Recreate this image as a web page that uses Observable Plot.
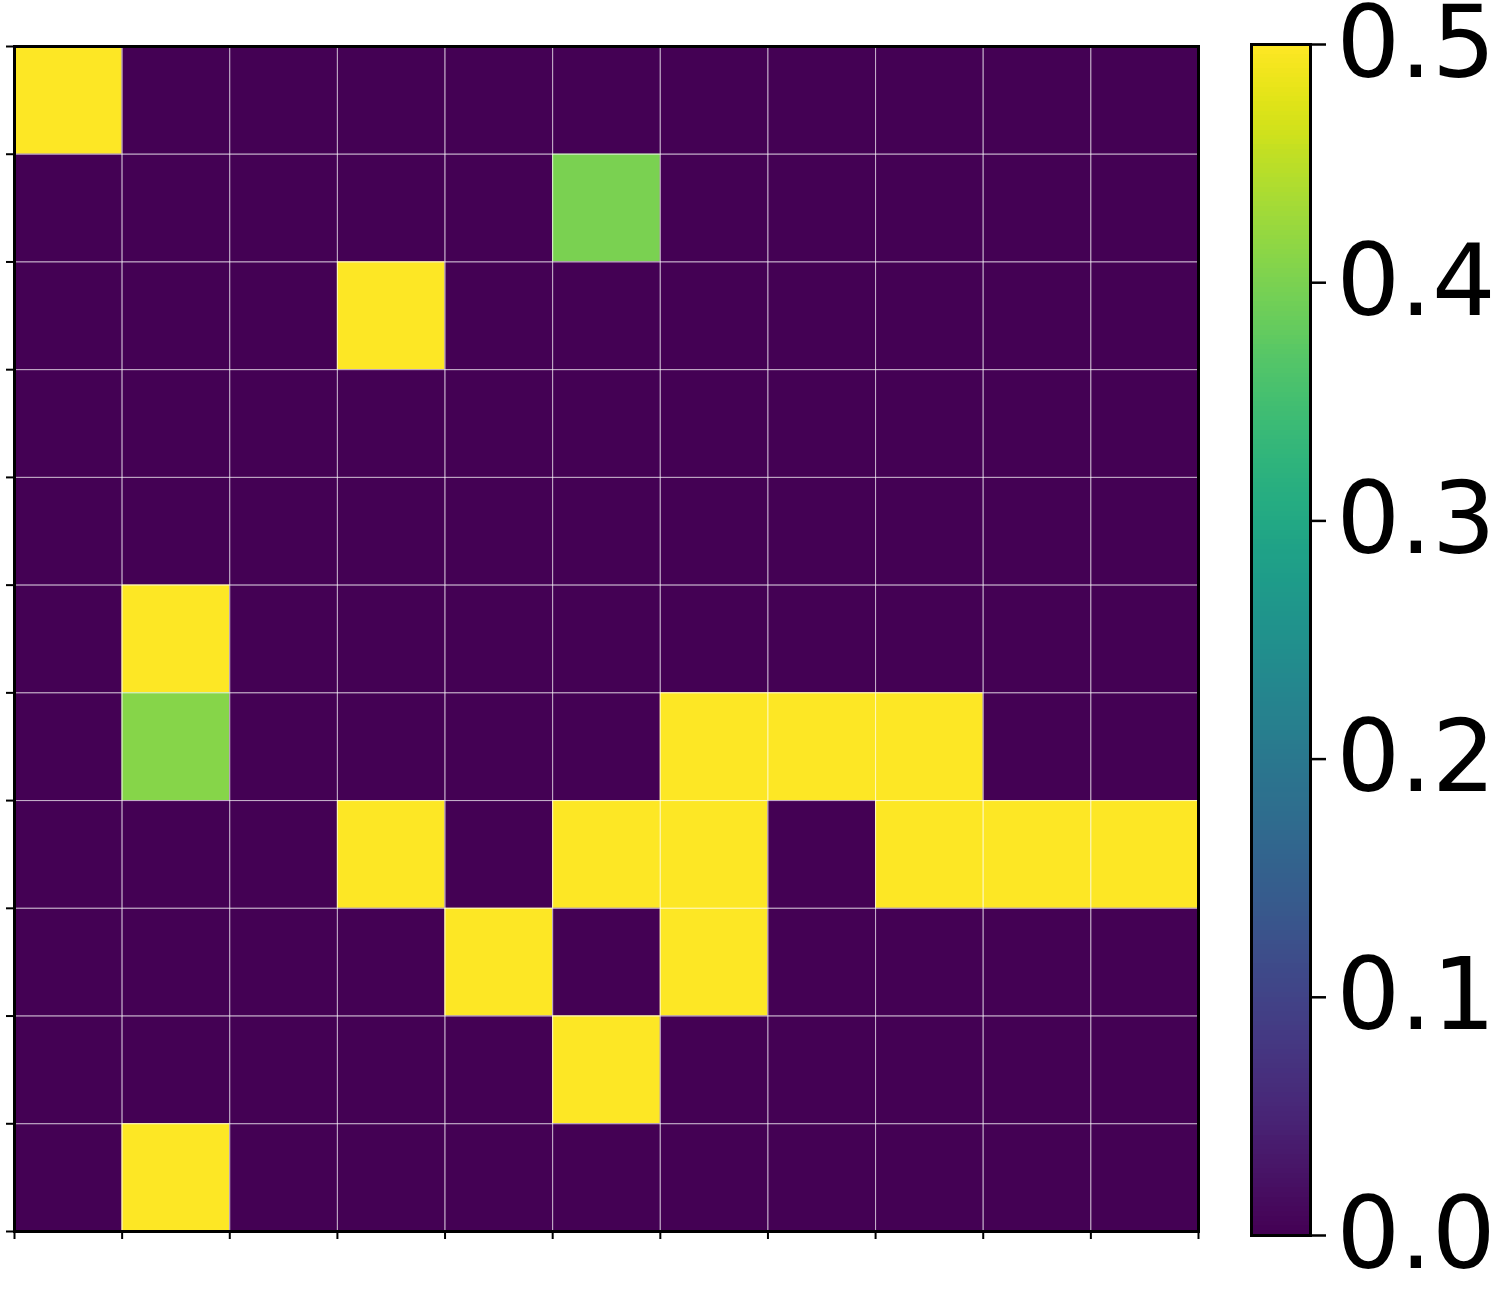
<!DOCTYPE html>
<html>
<head>
<meta charset="utf-8">
<script src="https://cdn.jsdelivr.net/npm/d3@7"></script>
<script src="https://cdn.jsdelivr.net/npm/@observablehq/plot@0.6"></script>
<style>
  html, body { margin: 0; padding: 0; background: #fff; }
  #wrap { position: relative; width: 1503px; height: 1300px; font-family: "DejaVu Sans", sans-serif; }
  #wrap svg { position: absolute; left: 0; top: 0; overflow: visible; }
</style>
</head>
<body>
<div id="wrap"></div>
<script>
// Column and row indices of the 11x11 matrix
const colIndex = [0, 1, 2, 3, 4, 5, 6, 7, 8, 9, 10];
const rowIndex = [0, 1, 2, 3, 4, 5, 6, 7, 8, 9, 10];
// Matrix values, one array per row (top to bottom)
const matrixRows = [
  [0.5, 0, 0, 0, 0, 0, 0, 0, 0, 0, 0],
  [0, 0, 0, 0, 0, 0.4, 0, 0, 0, 0, 0],
  [0, 0, 0, 0.5, 0, 0, 0, 0, 0, 0, 0],
  [0, 0, 0, 0, 0, 0, 0, 0, 0, 0, 0],
  [0, 0, 0, 0, 0, 0, 0, 0, 0, 0, 0],
  [0, 0.5, 0, 0, 0, 0, 0, 0, 0, 0, 0],
  [0, 0.41, 0, 0, 0, 0, 0.5, 0.5, 0.5, 0, 0],
  [0, 0, 0, 0.5, 0, 0.5, 0.5, 0, 0.5, 0.5, 0.5],
  [0, 0, 0, 0, 0.5, 0, 0.5, 0, 0, 0, 0],
  [0, 0, 0, 0, 0, 0.5, 0, 0, 0, 0, 0],
  [0, 0.5, 0, 0, 0, 0, 0, 0, 0, 0, 0]
];
// Colorbar ticks
const colorDomain = [0, 0.5];
const colorTicks = [0, 0.1, 0.2, 0.3, 0.4, 0.5];

const cells = [];
rowIndex.forEach(r => colIndex.forEach(c => cells.push({row: r, col: c, value: matrixRows[r][c]})));
const boundaries = d3.range(0, colIndex.length + 1);
const interior = boundaries.slice(1, -1);
const font = {fontFamily: "DejaVu Sans", background: "transparent", overflow: "visible"};

const heat = Plot.plot({
  width: 1503,
  height: 1300,
  marginLeft: 14,
  marginRight: 305,
  marginTop: 46,
  marginBottom: 69,
  style: font,
  x: {domain: [0, colIndex.length], axis: null},
  y: {domain: [0, rowIndex.length], reverse: true, axis: null},
  color: {type: "linear", scheme: "viridis", domain: colorDomain},
  marks: [
    Plot.rect(cells, {x1: d => d.col, x2: d => d.col + 1, y1: d => d.row, y2: d => d.row + 1, fill: "value"}),
    Plot.ruleX(interior, {stroke: "white", strokeOpacity: 0.7, strokeWidth: 1}),
    Plot.ruleY(interior, {stroke: "white", strokeOpacity: 0.7, strokeWidth: 1}),
    Plot.axisX(boundaries, {anchor: "bottom", tickSize: 8, strokeWidth: 2, tickFormat: () => "", stroke: "black"}),
    Plot.axisY(boundaries, {anchor: "left", tickSize: 8, strokeWidth: 2, tickFormat: () => "", stroke: "black"}),
    Plot.frame({stroke: "black", strokeWidth: 3})
  ]
});

const nSteps = 250;
const stepH = (colorDomain[1] - colorDomain[0]) / nSteps;
const steps = d3.range(0, nSteps).map(i => colorDomain[0] + stepH * i);
const bar = Plot.plot({
  width: 1503,
  height: 1300,
  marginLeft: 1251,
  marginRight: 193,
  marginTop: 44,
  marginBottom: 65,
  style: font,
  x: {domain: [0, 1], axis: null},
  y: {domain: colorDomain, axis: null},
  color: {type: "linear", scheme: "viridis", domain: colorDomain},
  marks: [
    Plot.rect(steps, {x1: 0, x2: 1, y1: d => d, y2: d => Math.min(colorDomain[1], d + stepH * 2.5), fill: d => d + stepH / 2, shapeRendering: "crispEdges"}),
    Plot.frame({stroke: "black", strokeWidth: 3}),
    Plot.axisY(colorTicks, {anchor: "right", tickSize: 15, strokeWidth: 2.5, tickPadding: 11,
      tickFormat: d3.format(".1f"), fontSize: 100, fill: "black"})
  ]
});

const wrap = document.getElementById("wrap");
wrap.appendChild(heat);
wrap.appendChild(bar);
</script>
</body>
</html>
